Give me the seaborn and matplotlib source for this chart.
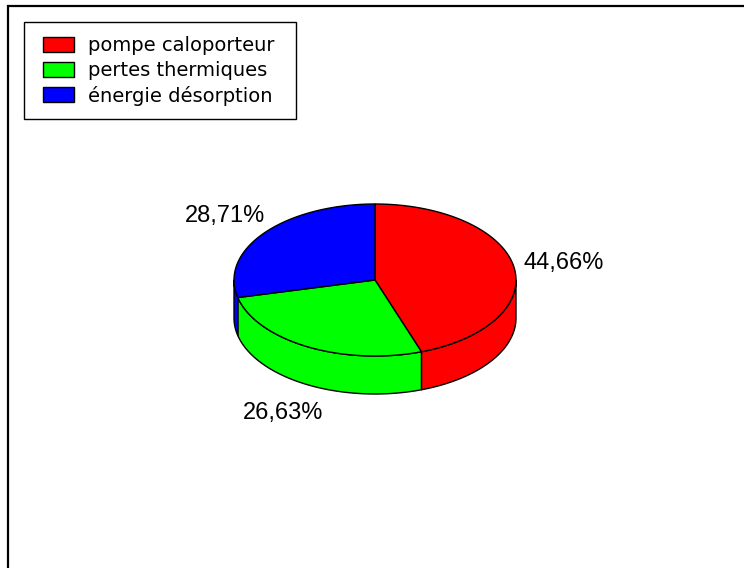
import numpy as np
import matplotlib
matplotlib.use("Agg")
import matplotlib.pyplot as plt
from matplotlib.patches import Polygon, Patch, Rectangle
import seaborn as sns

# Energy breakdown
categories = ["pompe caloporteur", "pertes thermiques", "énergie désorption"]
shares = [44.66, 26.63, 28.71]
share_labels = ["44,66%", "26,63%", "28,71%"]
slice_colors = ["#ff0000", "#00ff00", "#0000ff"]

sns.set_style("white")
plt.rcParams["text.color"] = "black"
palette = sns.color_palette(slice_colors)

W, H = 744, 568
fig = plt.figure(figsize=(W / 100, H / 100), dpi=100)
ax = fig.add_axes([0, 0, 1, 1])
ax.set_xlim(0, W)
ax.set_ylim(H, 0)
ax.axis("off")

# outer frame (open at the bottom and right)
ax.plot([8, 8, W + 5], [H + 5, 6, 6], color="black", lw=1.6, solid_joinstyle="miter")

# pie geometry in pixel space (y grows downward)
cx, cy = 375, 280
rx, ry = 141, 76
depth = 38


def ell(theta_deg, dz=0.0):
    t = np.radians(theta_deg)
    return cx + rx * np.cos(t), cy - ry * np.sin(t) + dz


# slices run clockwise from 12 o'clock
fractions = np.array(shares) / np.sum(shares)
starts = 90 - 360 * np.concatenate([[0], np.cumsum(fractions)[:-1]])
ends = starts - 360 * fractions

# side walls: only the front half (angles in [-180, 0]) is visible
for s, e, col in zip(starts, ends, palette):
    lo, hi = max(e, -180), min(s, 0)
    if lo >= hi:
        continue
    th = np.linspace(hi, lo, 80)
    top = [ell(t) for t in th]
    bot = [ell(t, depth) for t in th[::-1]]
    ax.add_patch(Polygon(top + bot, closed=True, facecolor=col,
                         edgecolor="black", lw=1.0, joinstyle="round"))

# top faces
for s, e, col in zip(starts, ends, palette):
    th = np.linspace(s, e, 200)
    pts = [(cx, cy)] + [ell(t) for t in th]
    ax.add_patch(Polygon(pts, closed=True, facecolor=col,
                         edgecolor="black", lw=1.0, joinstyle="round"))

# percentage labels outside the slices
for s, e, lab in zip(starts, ends, share_labels):
    mid = (s + e) / 2
    t = np.radians(mid)
    x = cx + 1.36 * rx * np.cos(t)
    y = cy - 1.36 * ry * np.sin(t)
    if np.sin(t) < 0:
        y += depth + 4
    ax.text(x, y, lab, ha="center", va="center", fontsize=17,
            family="Liberation Sans", color="black")

# legend
ax.add_patch(Rectangle((24, 22), 272, 97, facecolor="white",
                       edgecolor="black", lw=1.0))
handles = [Patch(facecolor=c, edgecolor="black", lw=1.0) for c in palette]
leg = ax.legend(handles, categories, loc="upper left",
                bbox_to_anchor=(43 / W, 1 - 36 / H),
                bbox_transform=fig.transFigure, frameon=False,
                prop={"family": "DejaVu Sans", "size": 14},
                labelcolor="black",
                handlelength=1.58, handleheight=0.8, handletextpad=0.75,
                labelspacing=0.3, borderpad=0, borderaxespad=0)

fig.savefig("out.png", dpi=100)
